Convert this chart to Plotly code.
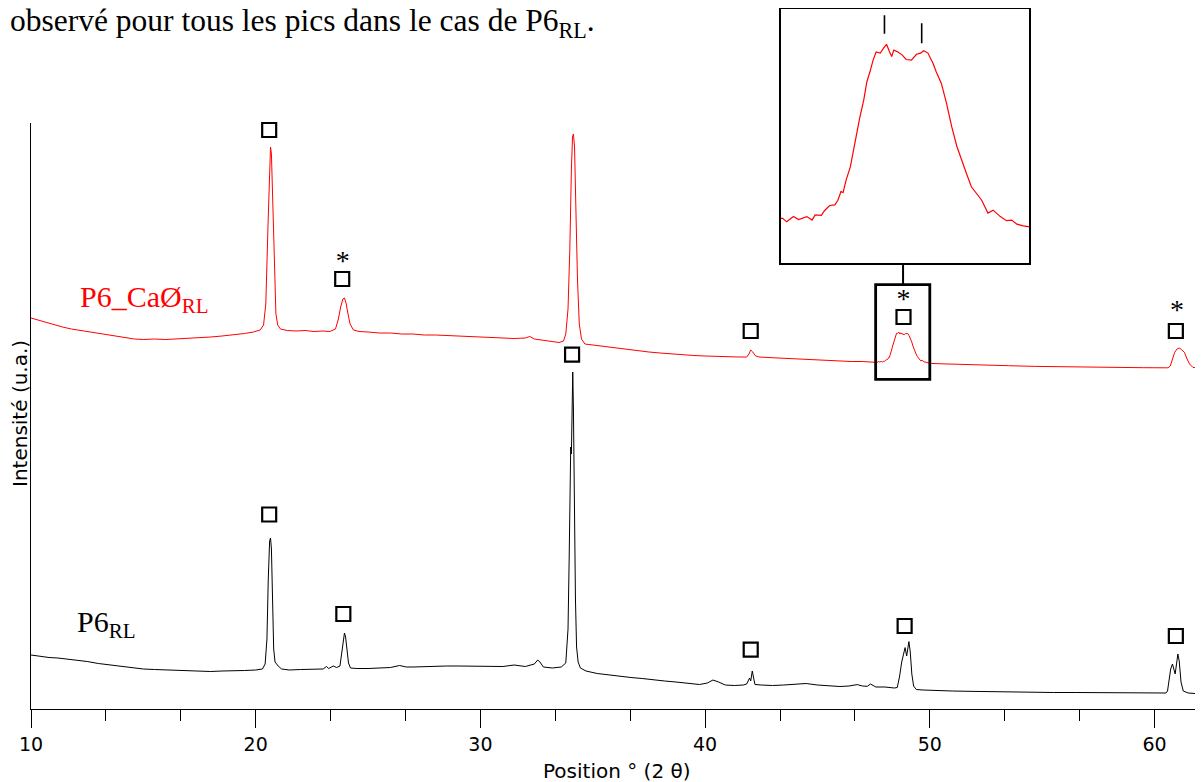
import plotly.graph_objects as go

# ---------------- data (2θ in degrees, intensity in arbitrary units) ----------------
ca_2theta = [10.0, 10.3, 10.6, 11.0, 11.4, 11.8, 12.2, 12.6, 13.0, 13.4, 13.8, 14.2, 14.6, 15.0, 15.5,
             16.0, 16.5, 17.0, 17.5, 18.0, 18.5, 19.0, 19.5, 19.9, 20.2, 20.35, 20.45, 20.55, 20.62, 20.66,
             20.7, 20.76, 20.82, 20.9, 20.98, 21.1, 21.4, 21.8, 22.2, 22.6, 23.0, 23.3, 23.55, 23.68, 23.78,
             23.88, 23.95, 24.02, 24.1, 24.2, 24.35, 24.6, 25.0, 25.5, 26.0, 26.5, 27.0, 27.5, 28.0, 28.5,
             29.0, 29.5, 30.0, 30.5, 31.0, 31.5, 32.0, 32.2, 32.4, 32.8, 33.2, 33.5, 33.7, 33.8, 33.9,
             33.98, 34.05, 34.1, 34.14, 34.19, 34.25, 34.32, 34.4, 34.5, 34.65, 35.0, 35.5, 36.0, 36.5, 37.0,
             37.5, 38.0, 38.5, 39.0, 39.5, 40.0, 40.5, 41.0, 41.5, 41.85, 41.95, 42.03, 42.12, 42.25, 42.4,
             42.8, 43.2, 43.6, 44.0, 44.5, 45.0, 45.5, 46.0, 46.5, 47.0, 47.3,
             47.616, 47.655, 47.72, 47.77, 47.85, 47.90, 47.93, 47.99, 48.02, 48.07, 48.12, 48.15, 48.18,
             48.20, 48.23, 48.27, 48.30, 48.33, 48.36, 48.40, 48.43, 48.46, 48.49, 48.52, 48.56, 48.59,
             48.62, 48.65, 48.67, 48.69, 48.73, 48.77, 48.81, 48.86, 48.91, 48.95, 48.98, 49.02, 49.07,
             49.10, 49.15, 49.20, 49.25, 49.30, 49.35, 49.39, 49.44, 49.49, 49.54, 49.60, 49.65, 49.72,
             49.78, 49.83, 49.88, 49.94, 49.99,
             50.06, 50.5, 51.0, 51.7, 52.5, 53.5, 54.7, 55.5, 56.5, 57.7, 58.5, 59.5, 60.5, 60.6, 60.7,
             60.8, 60.9, 61.0, 61.1, 61.2, 61.33, 61.45, 61.56, 61.71, 61.9, 62.16]
ca_int = [391, 389, 387, 384, 382, 380, 378.5, 377, 375.5, 374, 372.5, 371, 370, 369.5, 370,
          369.5, 370, 370.5, 371.5, 372, 373, 374, 375.5, 377, 379, 384, 405, 485, 555, 562,
          555, 500, 440, 395, 384, 380, 378.5, 378, 378.5, 377.5, 378, 377.5, 380, 390, 402,
          410, 411, 406, 396, 385, 379, 377.5, 377, 376, 376, 375, 375, 374, 374, 373.5,
          373, 372.5, 372, 371.5, 371, 370.5, 371, 372.5, 370, 369, 367.5, 366.5, 368, 375, 400,
          460, 540, 572, 575, 562, 500, 430, 385, 370, 365, 364, 362.5, 361, 359.5, 358,
          357, 356, 355, 354, 353.5, 353, 352.5, 352.5, 352, 352, 355, 359, 357, 353, 352,
          351.5, 351, 350.5, 350, 349.5, 349, 348.5, 348, 347.5, 347.5, 347.3,
          347.2, 346.6, 347.5, 347.0, 347.5, 346.9, 347.8, 347.7, 348.5, 349.4, 349.5, 350.3, 351.8,
          351.6, 353.8, 356.0, 358.9, 361.8, 364.3, 367.5, 370.6, 372.3, 374.3, 375.7, 375.5, 376.3,
          377.0, 375.7, 374.9, 376.0, 375.7, 375.2, 374.4, 374.3, 375.3, 375.5, 375.9, 375.5, 373.7,
          372.3, 370.3, 366.9, 362.9, 359.5, 357.2, 355.0, 352.6, 351.5, 350.3, 348.1, 348.6, 347.5,
          346.8, 346.9, 346.2, 345.9, 345.8,
          345.6, 345.2, 344.8, 344.6, 344, 343.3, 342.6, 342.3, 342, 341.6, 341.4, 341.3, 341.2, 341.2, 343,
          350, 356.7, 360, 361, 359.5, 356.7, 350, 345, 341.6, 341, 340.6]

rl_2theta = [10.0, 10.4, 10.8, 11.2, 11.6, 12.0, 12.5, 13.0, 13.5, 14.0, 14.5, 15.0, 15.5, 16.0, 16.5,
             17.0, 17.5, 18.0, 18.5, 19.0, 19.5, 20.0, 20.3, 20.42, 20.5, 20.56, 20.62, 20.66, 20.7, 20.75,
             20.8, 20.86, 20.93, 21.0, 21.15, 21.5, 22.0, 22.5, 23.0, 23.15, 23.25, 23.45, 23.6, 23.75, 23.83,
             23.9, 23.95, 24.0, 24.06, 24.13, 24.22, 24.5, 25.0, 25.5, 26.0, 26.4, 26.7, 27.0, 27.5, 28.0,
             28.5, 29.0, 29.5, 30.0, 30.5, 31.0, 31.5, 32.0, 32.4, 32.55, 32.65, 32.8, 33.2, 33.6, 33.8,
             33.9, 33.95, 33.99, 34.02, 34.05, 34.08, 34.11, 34.14, 34.18, 34.23, 34.28, 34.35, 34.45, 34.7,
             35.2, 35.7, 36.2, 36.7, 37.2, 37.7, 38.2, 38.7, 39.2, 39.75, 40.1, 40.35, 40.6, 40.9, 41.3,
             41.7, 41.85, 41.93, 41.98, 42.03, 42.1, 42.16, 42.22, 42.5, 43.0, 43.5, 44.0, 44.5, 45.0,
             45.5, 46.0, 46.4, 46.77, 47.0, 47.22, 47.36, 47.6, 48.0, 48.42, 48.55, 48.65, 48.75, 48.85,
             48.9, 48.97, 49.03, 49.07, 49.13, 49.2, 49.28, 49.4, 49.7, 50.2, 51.0, 51.7, 52.5, 53.5,
             54.7, 55.5, 56.5, 57.5, 58.3, 58.87, 59.3, 60.0, 60.51, 60.58, 60.65, 60.72, 60.8, 60.86,
             60.92, 60.98, 61.04, 61.1, 61.18, 61.28, 61.5, 61.8, 62.16]
rl_int = [54, 52.5, 51.5, 51, 50, 49, 47.5, 45.5, 44, 42.5, 41.5, 40, 39.5, 39, 38.5,
          38, 38, 37.5, 38, 38, 38.5, 39, 40, 45, 70, 130, 168, 171, 160, 110,
          60, 47, 45, 43, 40, 39, 39.5, 39.5, 40, 42.5, 40.5, 43, 41.5, 43, 55,
          70, 76, 72, 60, 46, 41, 40.5, 40.5, 41, 41.5, 43.5, 42, 42, 42.5, 42.5,
          43, 43, 43, 43, 43, 42.5, 44, 42.5, 45, 49, 47, 42, 41, 42, 46,
          80, 150, 250, 262, 255, 320, 337, 300, 200, 110, 62, 47, 41, 38,
          35.5, 34, 33, 31.5, 30.5, 29, 28, 27, 26, 24.5, 26, 29, 27, 24, 23.5,
          24, 25, 30, 31, 28, 38, 31, 24.5, 24, 23.5, 24, 24.5, 25.5, 24,
          23.5, 22.5, 23, 24.4, 23, 22.7, 25, 22, 22, 21, 21.5, 32, 47, 59,
          61.4, 53, 62, 67.4, 57, 35, 23, 19.5, 19, 18.4, 18, 17.7, 17.3, 17,
          16.7, 16.5, 16.5, 16.3, 16.2, 16.7, 16, 16.2, 16, 18, 30, 40, 45, 40,
          35, 45, 55, 48, 27, 18, 16, 15.5, 15]

# peak markers (□) and (*) — peak positions and heights of the symbols
ca_marks_2theta = [20.6, 23.85, 34.05, 42.03, 48.83, 60.95]
ca_marks_int = [579, 430, 591, 378, 392, 378]
ca_star_2theta = [23.87, 48.83, 61.0]
ca_star_int = [446, 408, 397]
rl_marks_2theta = [20.6, 23.9, 34.08, 42.03, 48.88, 60.95]
rl_marks_int = [194.5, 95, 354.4, 59.4, 83, 73]

# ---------------- figure ----------------
fig = go.Figure()

fig.add_trace(go.Scatter(x=rl_2theta, y=rl_int, mode="lines",
                         line=dict(color="black", width=1), showlegend=False, hoverinfo="skip"))
fig.add_trace(go.Scatter(x=ca_2theta, y=ca_int, mode="lines",
                         line=dict(color="#ff0000", width=1), showlegend=False, hoverinfo="skip"))

square_marker = dict(symbol="square-open", size=14, color="black", line=dict(width=2.2, color="black"))
fig.add_trace(go.Scatter(x=ca_marks_2theta, y=ca_marks_int, mode="markers", marker=square_marker,
                         cliponaxis=False, showlegend=False, hoverinfo="skip"))
fig.add_trace(go.Scatter(x=rl_marks_2theta, y=rl_marks_int, mode="markers", marker=square_marker,
                         cliponaxis=False, showlegend=False, hoverinfo="skip"))
fig.add_trace(go.Scatter(x=ca_star_2theta, y=ca_star_int, mode="text", text=["*"] * len(ca_star_2theta),
                         textposition="middle center",
                         textfont=dict(family="Liberation Serif", size=28, color="black"),
                         cliponaxis=False, showlegend=False, hoverinfo="skip"))

# inset: zoom on the red peak near 49°
fig.add_trace(go.Scatter(x=ca_2theta, y=ca_int, mode="lines", xaxis="x2", yaxis="y2",
                         line=dict(color="#ff0000", width=1.2), showlegend=False, hoverinfo="skip"))

# page is shown with an 8 px body margin: the figure is laid out 8 px up/left
OFF = 8
W, H = 1203 - OFF, 782 - OFF
ML, MB = 31 - OFF, 73
PW, PH = W - ML, H - MB          # 1172 x 701
BOT = 709                        # page y of the x axis line
px_per_deg = 22.47


def fy(page_y):
    return (BOT - page_y) / PH


def fx(page_x):
    return (page_x - 31) / PW


fig.update_layout(
    width=W, height=H,
    margin=dict(l=ML, r=0, t=0, b=MB),
    paper_bgcolor="white", plot_bgcolor="white",
    showlegend=False,
    xaxis=dict(range=[10, 10 + PW / px_per_deg], domain=[0, 1],
               showline=True, linecolor="black", linewidth=1.2,
               ticks="outside", ticklen=18, tickwidth=1.2, tickcolor="black",
               tick0=10, dtick=10,
               tickfont=dict(family="DejaVu Sans", size=19, color="black"),
               minor=dict(tick0=10, dtick=10 / 3, ticks="outside", ticklen=11,
                          tickwidth=1.2, tickcolor="black", showgrid=False),
               showgrid=False, zeroline=False),
    yaxis=dict(range=[0, 586], domain=[0, 586 / PH],
               showline=True, linecolor="black", linewidth=1,
               ticks="", showticklabels=False, showgrid=False, zeroline=False),
    xaxis2=dict(range=[47.6, 50.0], domain=[fx(781), fx(1029.3)], anchor="y2",
                showline=True, mirror=True, linecolor="black", linewidth=2,
                ticks="", showticklabels=False, showgrid=False, zeroline=False),
    yaxis2=dict(range=[339.5, 383.0], domain=[fy(263.3), fy(9.3)], anchor="x2",
                showline=True, mirror=True, linecolor="black", linewidth=2,
                ticks="", showticklabels=False, showgrid=False, zeroline=False),
    shapes=[
        # box around the zoomed peak
        dict(type="rect", xref="x", yref="y", x0=47.59, x1=50.0, y0=329.7, y1=424.3,
             line=dict(color="black", width=2.8)),
        # connector to inset
        dict(type="line", xref="x", yref="y", x0=48.81, x1=48.81, y0=424.3, y1=BOT - 263.3,
             line=dict(color="black", width=2)),
        # doublet markers in the inset
        dict(type="line", xref="x2", yref="y2", x0=48.60, x1=48.60, y0=378.8, y1=382.0,
             line=dict(color="black", width=1.6)),
        dict(type="line", xref="x2", yref="y2", x0=48.96, x1=48.96, y0=377.2, y1=380.6,
             line=dict(color="black", width=1.6)),
    ],
    annotations=[
        dict(text="observé pour tous les pics dans le cas de P6<sub>RL</sub>.",
             xref="paper", yref="paper", x=fx(8), y=fy(23),
             xanchor="left", yanchor="middle", showarrow=False,
             font=dict(family="Liberation Serif", size=31.5, color="black")),
        dict(text="P6_CaØ<sub>RL</sub>", xref="x", yref="y", x=12.07, y=410,
             xanchor="left", yanchor="middle", showarrow=False,
             font=dict(family="Liberation Serif", size=30, color="#ff0000")),
        dict(text="P6<sub>RL</sub>", xref="x", yref="y", x=11.98, y=85,
             xanchor="left", yanchor="middle", showarrow=False,
             font=dict(family="Liberation Serif", size=30, color="black")),
        dict(text="Position ° (2 θ)", xref="paper", yref="paper",
             x=fx(617), y=fy(771), xanchor="center", yanchor="middle",
             showarrow=False, font=dict(family="DejaVu Sans", size=20, color="black")),
        dict(text="Intensité (u.a.)", xref="paper", yref="paper", textangle=-90,
             x=fx(20), y=fy(414), xanchor="center", yanchor="middle",
             showarrow=False, font=dict(family="DejaVu Sans", size=20, color="black")),
    ],
)

fig.write_html("out.html")
